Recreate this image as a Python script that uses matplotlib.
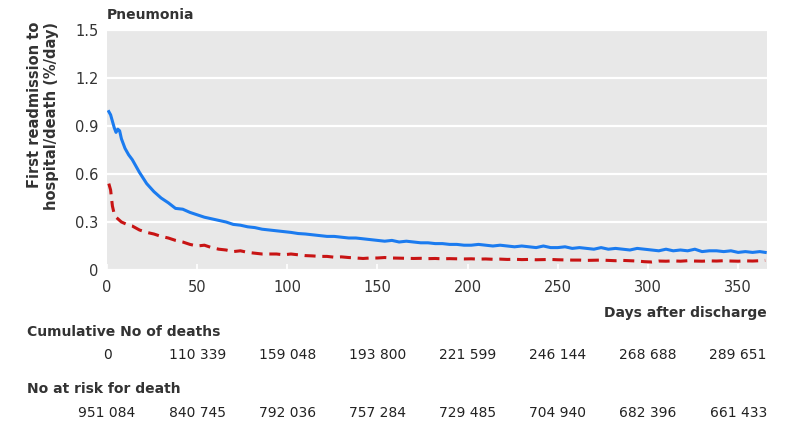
import matplotlib
matplotlib.use("Agg")
import matplotlib.pyplot as plt
from matplotlib import font_manager
from matplotlib.transforms import blended_transform_factory

# days after discharge at which the curves were read
days = [1, 2, 3, 4, 5, 6, 7, 8, 9, 10, 11, 12,
        14, 18, 22, 26, 30, 34, 38, 42, 46, 50, 54, 58, 62, 66, 70, 74, 78, 82,
        86, 90, 94, 98, 102, 106, 110, 114, 118, 122, 126, 130, 134, 138, 142,
        146, 150, 154, 158, 162, 166, 170, 174, 178, 182, 186, 190, 194, 198,
        202, 206, 210, 214, 218, 222, 226, 230, 234, 238, 242, 246, 250, 254,
        258, 262, 266, 270, 274, 278, 282, 286, 290, 294, 298, 302, 306, 310,
        314, 318, 322, 326, 330, 334, 338, 342, 346, 350, 354, 358, 362, 365]

readmission = [0.99, 0.97, 0.93, 0.89, 0.86, 0.88, 0.87, 0.82, 0.79, 0.76, 0.74, 0.72,
               0.69, 0.61, 0.54, 0.49, 0.45, 0.42, 0.385, 0.38, 0.36, 0.345, 0.33, 0.32,
               0.31, 0.30, 0.285, 0.28, 0.27, 0.265, 0.255, 0.25, 0.245, 0.24, 0.235,
               0.228, 0.225, 0.22, 0.215, 0.21, 0.21, 0.205, 0.20, 0.20, 0.195, 0.19,
               0.185, 0.18, 0.185, 0.175, 0.18, 0.175, 0.17, 0.17, 0.165, 0.165, 0.16,
               0.16, 0.155, 0.155, 0.16, 0.155, 0.15, 0.155, 0.15, 0.145, 0.15, 0.145,
               0.14, 0.15, 0.14, 0.14, 0.145, 0.135, 0.14, 0.135, 0.13, 0.14, 0.13,
               0.135, 0.13, 0.125, 0.135, 0.13, 0.125, 0.12, 0.13, 0.12, 0.125, 0.12,
               0.13, 0.115, 0.12, 0.12, 0.115, 0.12, 0.11, 0.115, 0.11, 0.115, 0.11]

death = [0.54, 0.50, 0.40, 0.35, 0.33, 0.32, 0.31, 0.30, 0.295, 0.29, 0.285, 0.28,
         0.275, 0.25, 0.235, 0.225, 0.21, 0.20, 0.185, 0.175, 0.16, 0.15, 0.155, 0.14,
         0.13, 0.125, 0.115, 0.12, 0.11, 0.105, 0.10, 0.10, 0.10, 0.095, 0.10, 0.095,
         0.09, 0.088, 0.085, 0.085, 0.08, 0.082, 0.078, 0.075, 0.072, 0.075, 0.075,
         0.078, 0.075, 0.074, 0.073, 0.072, 0.073, 0.071, 0.072, 0.07, 0.071, 0.07,
         0.069, 0.07, 0.068, 0.069, 0.067, 0.068, 0.066, 0.067, 0.065, 0.066, 0.064,
         0.065, 0.066, 0.064, 0.063, 0.062, 0.062, 0.06, 0.061, 0.062, 0.06, 0.058,
         0.06, 0.058, 0.056, 0.052, 0.05, 0.056, 0.055, 0.057, 0.055, 0.058, 0.056,
         0.055, 0.057, 0.056, 0.058, 0.056, 0.055, 0.057, 0.056, 0.058, 0.06]

table_days = [0, 50, 100, 150, 200, 250, 300, 350]
cum_deaths = ["0", "110 339", "159 048", "193 800", "221 599", "246 144", "268 688", "289 651"]
at_risk = ["951 084", "840 745", "792 036", "757 284", "729 485", "704 940", "682 396", "661 433"]

installed = {f.name for f in font_manager.fontManager.ttflist}
if "Liberation Sans Narrow" in installed:
    narrow = "Liberation Sans Narrow"
    nsize = 12.5
else:
    narrow = "DejaVu Sans"
    nsize = 10

W, H = 794, 422
fig = plt.figure(figsize=(W / 100, H / 100), dpi=100)
ax = fig.add_axes([107 / W, 1 - 270 / H, 660 / W, 240 / H])
ax.set_facecolor("#e8e8e8")
for s in ax.spines.values():
    s.set_visible(False)

ax.set_xlim(0, 366)
ax.set_ylim(0, 1.5)
ax.set_yticks([0, 0.3, 0.6, 0.9, 1.2, 1.5])
ax.set_yticklabels(["0", "0.3", "0.6", "0.9", "1.2", "1.5"])
ax.set_xticks(table_days)
ax.grid(axis="y", color="white", linewidth=1.6)
ax.set_axisbelow(True)
ax.tick_params(axis="y", length=0, pad=6, labelsize=10.5, labelcolor="#333333")
ax.tick_params(axis="x", direction="in", length=4, width=1.2, color="white",
               pad=7, labelsize=10.5, labelcolor="#333333")

ax.plot(days, readmission, color="#1b7bef", linewidth=2.2, solid_joinstyle="round")
ax.plot(days, death, color="#c81414", linewidth=2.2, dashes=(3.6, 2.2))

fig.text(107 / W, 1 - 15 / H, "Pneumonia", fontsize=10, fontweight="bold",
         color="#333333", ha="left", va="center")
fig.text(43 / W, 1 - 22 / H, "First readmission to\nhospital/death (%/day)",
         rotation=90, ha="center", va="top", multialignment="right",
         fontsize=10.5, fontweight="bold", color="#333333", linespacing=1.2)

fig.text(767 / W, 1 - 313 / H, "Days after discharge", family=narrow,
         fontsize=nsize, fontweight="bold", color="#333333", ha="right", va="center")
fig.text(27 / W, 1 - 332 / H, "Cumulative No of deaths", family=narrow,
         fontsize=nsize, fontweight="bold", color="#333333", ha="left", va="center")
fig.text(27 / W, 1 - 389 / H, "No at risk for death", family=narrow,
         fontsize=nsize, fontweight="bold", color="#333333", ha="left", va="center")

trans = blended_transform_factory(ax.transData, fig.transFigure)
for d, c, r in zip(table_days, cum_deaths, at_risk):
    ax.text(d, 1 - 355 / H, c, transform=trans, family=narrow, fontsize=nsize,
            color="#222222", ha="center", va="center", clip_on=False)
    ax.text(d, 1 - 413 / H, r, transform=trans, family=narrow, fontsize=nsize,
            color="#222222", ha="center", va="center", clip_on=False)

fig.savefig("out.png", dpi=100)
